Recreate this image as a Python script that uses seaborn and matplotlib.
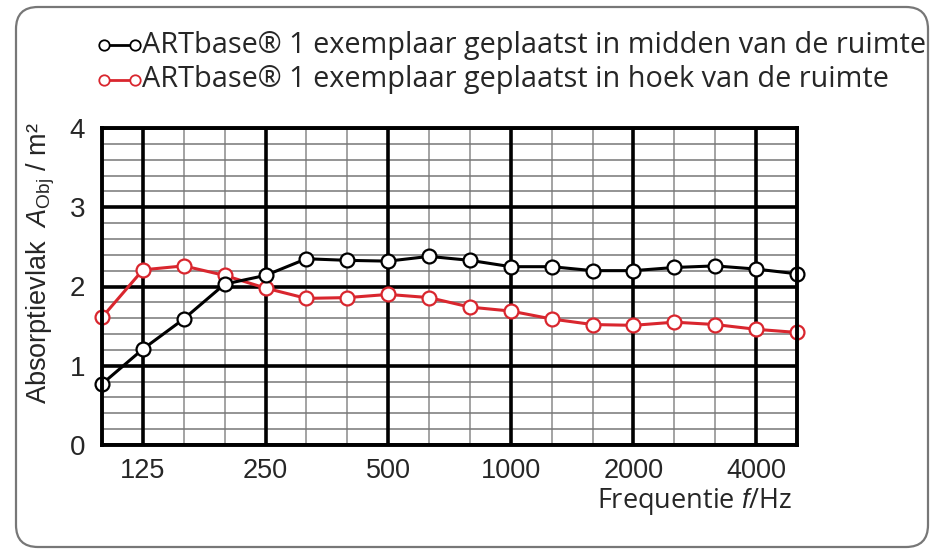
import numpy as np
import pandas as pd
import matplotlib
matplotlib.use("Agg")
import matplotlib.pyplot as plt
from matplotlib.patches import FancyBboxPatch
from matplotlib.lines import Line2D
import seaborn as sns

freqs = [100, 125, 160, 200, 250, 315, 400, 500, 630, 800, 1000, 1250, 1600, 2000, 2500, 3150, 4000, 5000]
midden = [0.77, 1.21, 1.59, 2.03, 2.14, 2.35, 2.33, 2.32, 2.38, 2.33, 2.25, 2.25, 2.20, 2.20, 2.24, 2.26, 2.22, 2.16]
hoek = [1.61, 2.21, 2.26, 2.14, 1.98, 1.85, 1.86, 1.90, 1.86, 1.74, 1.69, 1.59, 1.52, 1.51, 1.55, 1.52, 1.46, 1.42]
major_ticks = ["125", "250", "500", "1000", "2000", "4000"]
y_ticks = [0, 1, 2, 3, 4]
legend_labels = ["ARTbase\u00ae 1 exemplaar geplaatst in midden van de ruimte",
                 "ARTbase\u00ae 1 exemplaar geplaatst in hoek van de ruimte"]

sns.set_theme(style="white")
plt.rcParams["font.family"] = ["Liberation Sans", "DejaVu Sans"]
plt.rcParams["mathtext.fontset"] = "custom"
plt.rcParams["mathtext.rm"] = "Liberation Sans"
plt.rcParams["mathtext.it"] = "Liberation Sans:italic"

fig = plt.figure(figsize=(9.33, 5.55), dpi=100)
fig.patch.set_facecolor("white")
card = FancyBboxPatch((16, 8), 912, 540, boxstyle="round,pad=0,rounding_size=22",
                      transform=None, facecolor="white", edgecolor="#777777", linewidth=1.6, zorder=-5)
fig.patches.append(card)

ax = fig.add_axes([102/933, (555-445)/555, 695/933, 317/555])
ax.set_facecolor("white")
ax.set_zorder(2)

idx = list(range(len(freqs)))
df = pd.DataFrame({"idx": idx + idx,
                   "val": midden + hoek,
                   "serie": ["midden"] * len(idx) + ["hoek"] * len(idx)})

# grid
for i in idx:
    f = str(freqs[i])
    if f in major_ticks:
        ax.axvline(i, color="black", lw=2.6, zorder=2)
    else:
        ax.axvline(i, color="#8a8a8a", lw=1.1, zorder=1)
for v in np.arange(0, 4.01, 0.2):
    if abs(v - round(v)) < 1e-6:
        ax.axhline(v, color="black", lw=2.6, zorder=2)
    else:
        ax.axhline(v, color="#777777", lw=1.1, zorder=1)

sns.lineplot(data=df[df.serie == "midden"], x="idx", y="val", color="black", lw=2.2,
             marker="o", markersize=10, markerfacecolor="white", markeredgecolor="black",
             markeredgewidth=1.6, ax=ax, zorder=5, clip_on=False, legend=False)
sns.lineplot(data=df[df.serie == "hoek"], x="idx", y="val", color="#d9262e", lw=2.2,
             marker="o", markersize=10, markerfacecolor="white", markeredgecolor="#d9262e",
             markeredgewidth=1.6, ax=ax, zorder=4, clip_on=False, legend=False)

ax.set_xlim(0, len(freqs) - 1)
ax.set_ylim(0, 4)
ax.set_xticks([freqs.index(int(t)) for t in major_ticks])
ax.set_xticklabels(major_ticks, fontsize=19.5)
ax.set_yticks(y_ticks)
ax.set_yticklabels([str(t) for t in y_ticks], fontsize=20)
ax.tick_params(axis="x", length=0, pad=9)
ax.tick_params(axis="y", length=0, pad=12)
ax.set_xlabel("")
ax.set_ylabel("")
for s in ax.spines.values():
    s.set_color("black")
    s.set_linewidth(2.8)
    s.set_zorder(6)

fig.text(41/933, 1 - 263/555, "Absorptievlak  $A_{\\mathrm{Obj}}$ / m\u00b2", rotation=90,
         ha="center", va="center", fontsize=19.5)
fig.text(792/933, 1 - 508/555, "Frequentie $\\it{f}$/Hz", ha="right", va="baseline",
         fontsize=19.5, family=["Open Sans", "DejaVu Sans"])

# legend
for k, (lab, col) in enumerate(zip(legend_labels, ["black", "#d9262e"])):
    yy = 1 - (45 + 35 * k) / 555
    ln = Line2D([104/933, 135/933], [yy, yy], transform=fig.transFigure, color=col, lw=2.0,
                marker="o", markersize=7.5, markerfacecolor="white", markeredgecolor=col,
                markeredgewidth=1.3)
    fig.lines.append(ln)
    fig.text(142/933, yy, lab, ha="left", va="center", fontsize=20.8,
             family=["Open Sans", "DejaVu Sans"])

fig.savefig("out.png", dpi=100)
